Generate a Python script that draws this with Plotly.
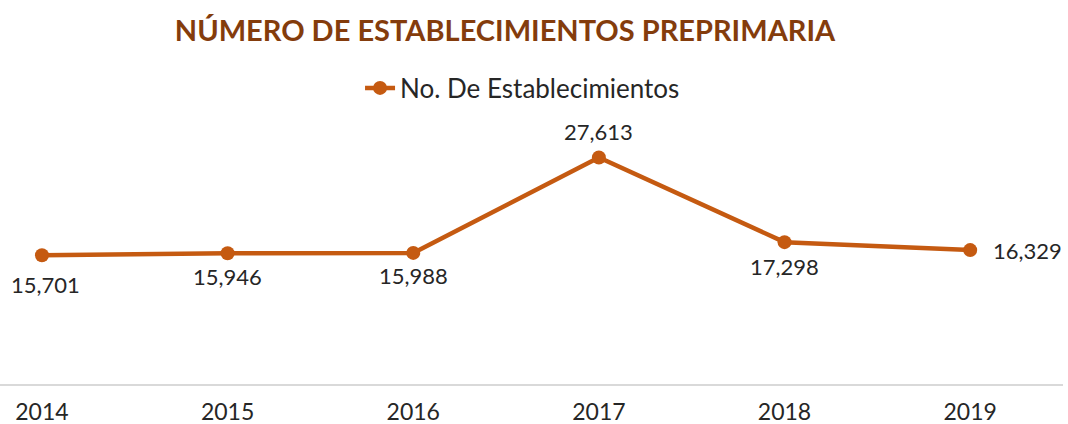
import plotly.graph_objects as go

years = ["2014", "2015", "2016", "2017", "2018", "2019"]
establecimientos = [15701, 15946, 15988, 27613, 17298, 16329]
label_text = ["15,701", "15,946", "15,988", "27,613", "17,298", "16,329"]

LINE = "#C55A11"
TITLE = "#843C0C"
FONT = "Lato"

T, B = 138, 40
H = 424 - T - B

fig = go.Figure()
fig.add_trace(go.Scatter(
    x=years, y=establecimientos, mode="lines+markers",
    name="No. De Establecimientos",
    line=dict(color=LINE, width=4.5),
    marker=dict(color=LINE, size=14),
))

# label placement (pixel offsets)
offsets = [(4, -29), (0, -23), (0, -23), (0, 26), (0, -24), (57, 0)]
for i, (y, t, (dx, dy)) in enumerate(zip(establecimientos, label_text, offsets)):
    fig.add_annotation(x=i, y=y, xref="x", yref="y", text=t, showarrow=False,
                       xshift=dx, yshift=dy,
                       font=dict(family=FONT, size=22, color="#262626"))

fig.update_layout(
    width=1068, height=424,
    margin=dict(l=0, r=5, t=T, b=B, autoexpand=False),
    paper_bgcolor="white", plot_bgcolor="white",
    title=dict(text="<b>NÚMERO DE ESTABLECIMIENTOS PREPRIMARIA</b>",
               x=505/1068, xanchor="center", y=1-31/424, yanchor="middle",
               font=dict(family=FONT, size=29, color=TITLE)),
    legend=dict(orientation="h", x=525/1068, xanchor="center",
                y=1+(T-88)/H, yanchor="middle",
                font=dict(family=FONT, size=26, color="#262626"),
                bgcolor="rgba(0,0,0,0)"),
    showlegend=True,
    xaxis=dict(type="category", range=[-0.226, 5.5], showgrid=False,
               automargin=False,
               showline=True, linecolor="#D9D9D9", linewidth=1.5,
               ticks="", tickfont=dict(family=FONT, size=23, color="#262626"),
               ticklabelstandoff=7, zeroline=False),
    yaxis=dict(range=[0, 30000], visible=False, showgrid=False, zeroline=False,
               automargin=False),
)

fig.write_html("out.html", config={"displayModeBar": False},
               post_script="document.body.style.margin='0';document.body.style.padding='0';")
